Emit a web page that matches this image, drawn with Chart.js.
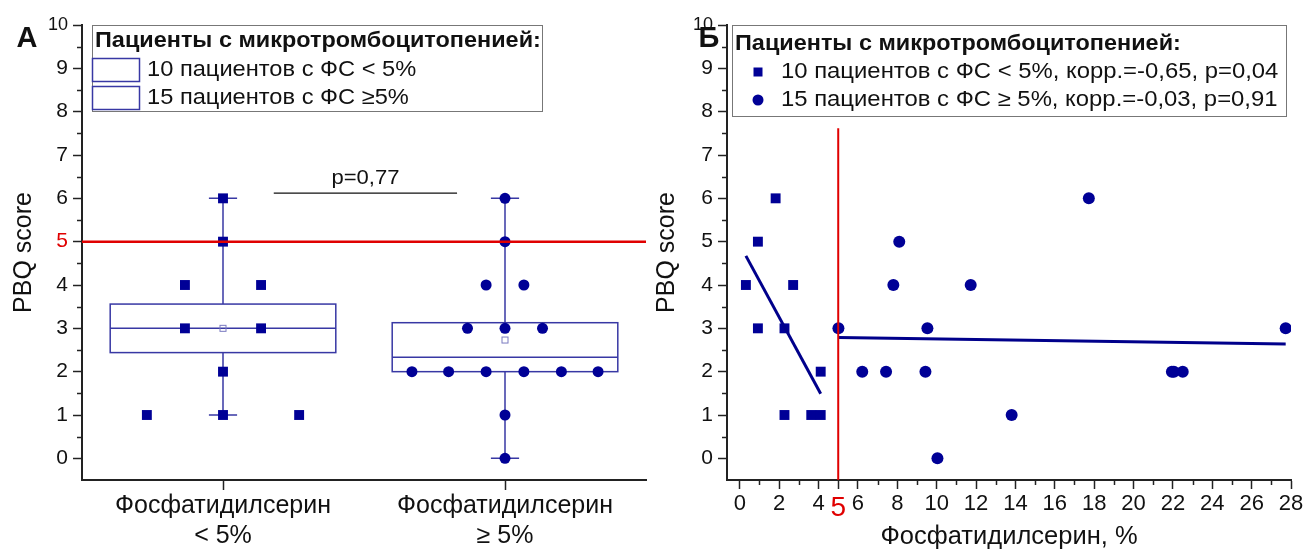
<!DOCTYPE html>
<html>
<head>
<meta charset="utf-8">
<script src="https://cdn.jsdelivr.net/npm/chart.js@4.4.0/dist/chart.umd.min.js"></script>
<style>
  html, body { margin: 0; padding: 0; background: #fff; }
  #wrap { position: relative; width: 1306px; height: 552px; overflow: hidden; }
  #chartA { position: absolute; left: 0; top: 0; }
  #chartB { position: absolute; left: 640px; top: 0; }
</style>
</head>
<body>
<div id="wrap">
  <canvas id="chartA" width="660" height="552"></canvas>
  <canvas id="chartB" width="666" height="552"></canvas>
</div>
<script>
// === Данные ===
const groupLabels = [["Фосфатидилсерин", "< 5%"], ["Фосфатидилсерин", "≥ 5%"]];
const yTicks = [0, 1, 2, 3, 4, 5, 6, 7, 8, 9, 10];
const psTicks = [0, 2, 4, 5, 6, 8, 10, 12, 14, 16, 18, 20, 22, 24, 26, 28];

// Панель А: точки по группам (x = группа + смещение)
const lowX = [0.73, 0.865, 0.865, 1, 1, 1, 1, 1.135, 1.135, 1.27];
const lowY = [1, 4, 3, 6, 5, 2, 1, 4, 3, 1];
const highX = [1.67, 1.8, 1.933, 2.067, 2.2, 2.33, 1.867, 2, 2.133, 1.933, 2.067, 2, 2, 2, 2];
const highY = [2, 2, 2, 2, 2, 2, 3, 3, 3, 4, 4, 6, 5, 1, 0];

// Панель А: ящики
const boxLow = [2.44, 2.0];
const boxHigh = [3.56, 3.13];
const boxMid = [3, 2.33];
const boxMean = [3, 2.73];
const whiskLow = [1, 0];
const whiskHigh = [6, 6];
const pText = "p=0,77";
const pBracketX = [1.18, 1.83];
const pBracketY = 6.12;

// Панель Б: ФС, % и PBQ
const psLowX = [0.31, 0.92, 0.92, 1.82, 2.27, 2.27, 2.71, 3.63, 4.11, 4.11];
const psLowY = [4, 3, 5, 6, 3, 1, 4, 1, 2, 1];
const psHighX = [5.01, 6.22, 7.43, 7.80, 8.10, 9.43, 9.53, 10.04, 11.73, 13.81, 17.73, 21.95, 22.05, 22.5, 27.73];
const psHighY = [3, 2, 2, 4, 5, 2, 3, 0, 4, 1, 6, 2, 2, 2, 3];

const threshold = 5;
const psLineTop = 7.62;

const legendTitle = "Пациенты с микротромбоцитопенией:";
const legendA = ["10 пациентов с ФС < 5%", "15 пациентов с ФС ≥5%"];
const legendB = ["10 пациентов с ФС < 5%, корр.=-0,65, p=0,04", "15 пациентов с ФС ≥ 5%, корр.=-0,03, p=0,91"];

// === Стиль ===
const FONT = "'Liberation Sans', Arial, sans-serif";
Chart.defaults.font.family = FONT;
Chart.defaults.color = "#111";
const navy = "#000096";
const boxBlue = "#3838a4";
const red = "#e00000";
const axisColor = "#222";

function toPoints(xs, ys) {
  return xs.map((x, i) => ({ x: x, y: ys[i] }));
}

// линейная регрессия по точкам, от min x до max x
function fitLine(xs, ys) {
  const n = xs.length;
  const mx = xs.reduce((a, b) => a + b, 0) / n;
  const my = ys.reduce((a, b) => a + b, 0) / n;
  let sxy = 0, sxx = 0;
  xs.forEach((x, i) => { sxy += (x - mx) * (ys[i] - my); sxx += (x - mx) * (x - mx); });
  const k = sxy / sxx;
  const x0 = Math.min(...xs), x1 = Math.max(...xs);
  return [{ x: x0, y: my + k * (x0 - mx) }, { x: x1, y: my + k * (x1 - mx) }];
}

function yAxis(width, titlePad, redFive) {
  return {
    type: "linear", min: -0.5, max: 10,
    afterBuildTicks: s => { s.ticks = yTicks.map(v => ({ value: v })); },
    afterFit: s => { s.width = width; },
    ticks: {
      autoSkip: false, padding: 5,
      font: c => ({ size: c.tick && c.tick.value === 10 ? 18 : 21 }),
      color: c => (redFive && c.tick && c.tick.value === threshold) ? red : "#111"
    },
    grid: { drawOnChartArea: false, drawTicks: true, tickLength: 9, color: axisColor, tickWidth: 1.5 },
    border: { display: true, color: axisColor, width: 2 },
    title: { display: true, text: "PBQ score", font: { size: 25 }, padding: { top: titlePad, bottom: 0 } }
  };
}

// растянутый по горизонтали текст
function wideText(ctx, t, x, y, k) {
  ctx.save();
  ctx.translate(x, y);
  ctx.scale(k, 1);
  ctx.fillText(t, 0, 0);
  ctx.restore();
}

// малые деления
const minorTicks = {
  id: "minorTicks",
  afterDraw(chart, args, opts) {
    const ctx = chart.ctx, a = chart.chartArea;
    const sx = chart.scales.x, sy = chart.scales.y;
    ctx.save();
    ctx.strokeStyle = axisColor;
    ctx.lineWidth = 1.5;
    (opts.y || []).forEach(v => {
      const py = Math.round(sy.getPixelForValue(v)) + 0.5;
      ctx.beginPath(); ctx.moveTo(a.left - 5, py); ctx.lineTo(a.left, py); ctx.stroke();
    });
    (opts.x || []).forEach(v => {
      const px = Math.round(sx.getPixelForValue(v)) + 0.5;
      ctx.beginPath(); ctx.moveTo(px, a.bottom); ctx.lineTo(px, a.bottom + 5); ctx.stroke();
    });
    ctx.restore();
  }
};

// ящики с усами
const boxPlot = {
  id: "boxPlot",
  beforeDatasetsDraw(chart) {
    const ctx = chart.ctx, sx = chart.scales.x, sy = chart.scales.y;
    ctx.save();
    ctx.strokeStyle = boxBlue;
    ctx.lineWidth = 1.5;
    boxLow.forEach((lo, i) => {
      const c = i + 1;
      const xl = sx.getPixelForValue(c - 0.4), xr = sx.getPixelForValue(c + 0.4);
      const xc = sx.getPixelForValue(c);
      const cl = sx.getPixelForValue(c - 0.05), cr = sx.getPixelForValue(c + 0.05);
      const yLo = sy.getPixelForValue(lo), yHi = sy.getPixelForValue(boxHigh[i]);
      ctx.strokeRect(xl, yHi, xr - xl, yLo - yHi);
      const ym = sy.getPixelForValue(boxMid[i]);
      ctx.beginPath(); ctx.moveTo(xl, ym); ctx.lineTo(xr, ym); ctx.stroke();
      const wTop = sy.getPixelForValue(whiskHigh[i]), wBot = sy.getPixelForValue(whiskLow[i]);
      ctx.beginPath();
      ctx.moveTo(xc, yHi); ctx.lineTo(xc, wTop);
      ctx.moveTo(xc, yLo); ctx.lineTo(xc, wBot);
      ctx.moveTo(cl, wTop); ctx.lineTo(cr, wTop);
      ctx.moveTo(cl, wBot); ctx.lineTo(cr, wBot);
      ctx.stroke();
      // среднее
      const yMean = sy.getPixelForValue(boxMean[i]);
      ctx.strokeStyle = "#7a7ac0";
      ctx.lineWidth = 1;
      ctx.strokeRect(xc - 3, yMean - 3, 6, 6);
      ctx.strokeStyle = boxBlue;
      ctx.lineWidth = 1.5;
    });
    // p-value
    const px = sx.getPixelForValue((pBracketX[0] + pBracketX[1]) / 2);
    const py = sy.getPixelForValue(pBracketY);
    ctx.fillStyle = "#111";
    ctx.font = "21px " + FONT;
    ctx.textAlign = "center";
    ctx.textBaseline = "bottom";
    wideText(ctx, pText, px, py - 4, 1.05);
    ctx.restore();
  }
};

// легенда в рамке
const boxLegend = {
  id: "boxLegend",
  afterDraw(chart, args, o) {
    const ctx = chart.ctx;
    ctx.save();
    ctx.strokeStyle = "#777";
    ctx.lineWidth = 1;
    ctx.strokeRect(o.x + 0.5, o.y + 0.5, o.w, o.h);
    ctx.fillStyle = "#111";
    ctx.textAlign = "left";
    ctx.textBaseline = "middle";
    ctx.font = "bold 21.5px " + FONT;
    wideText(ctx, legendTitle, o.x + 3, o.titleY, 1.09);
    ctx.font = "21.5px " + FONT;
    o.items.forEach((t, i) => {
      const y = o.rowY[i];
      if (o.kind === "box") {
        ctx.strokeStyle = boxBlue;
        ctx.lineWidth = 1.5;
        ctx.strokeRect(o.x + 0.5, y - 11.5, 47, 23);
      } else {
        ctx.fillStyle = navy;
        ctx.beginPath();
        if (i === 0) ctx.rect(o.markX - 4.5, y - 4.5, 9, 9);
        else ctx.arc(o.markX, y, 5.5, 0, Math.PI * 2);
        ctx.fill();
      }
      ctx.fillStyle = "#111";
      wideText(ctx, t, o.textX, y, o.stretch);
    });
    // буква панели
    ctx.font = "bold 29px " + FONT;
    ctx.textAlign = "center";
    ctx.fillText(o.letter, o.letterX, 39);
    ctx.restore();
  }
};

// === Панель А ===
new Chart(document.getElementById("chartA"), {
  type: "scatter",
  data: {
    datasets: [
      { type: "line", data: [{ x: 0.5, y: threshold }, { x: 2.5, y: threshold }], borderColor: red, borderWidth: 2.5, pointRadius: 0 },
      { type: "line", data: [{ x: pBracketX[0], y: pBracketY }, { x: pBracketX[1], y: pBracketY }], borderColor: "#111", borderWidth: 1.2, pointRadius: 0 },
      { data: toPoints(lowX, lowY), pointStyle: "rect", pointRadius: 7, backgroundColor: navy, borderWidth: 0 },
      { data: toPoints(highX, highY), pointStyle: "circle", pointRadius: 5.5, backgroundColor: navy, borderWidth: 0 }
    ]
  },
  options: {
    responsive: false, animation: false,
    layout: { padding: { top: 25, right: 14, left: 0, bottom: 0 } },
    plugins: {
      legend: { display: false }, tooltip: { enabled: false },
      minorTicks: { y: yTicks.slice(0, -1).map(v => v + 0.5) },
      boxLegend: { kind: "box", x: 92, y: 25, w: 450, h: 86, titleY: 41, rowY: [70, 98], items: legendA, textX: 147, stretch: 1.1, letter: "А", letterX: 27 }
    },
    scales: {
      x: {
        type: "linear", min: 0.5, max: 2.5,
        afterBuildTicks: s => { s.ticks = groupLabels.map((l, i) => ({ value: i + 1 })); },
        afterFit: s => { s.height = 72; },
        ticks: { autoSkip: false, maxRotation: 0, padding: 1, font: { size: 25, lineHeight: 1.2 }, color: "#111",
          callback: v => groupLabels[v - 1] },
        grid: { drawOnChartArea: false, drawTicks: true, tickLength: 10, color: axisColor, tickWidth: 1.5 },
        border: { display: true, color: axisColor, width: 2 }
      },
      y: yAxis(82, 9, true)
    }
  },
  plugins: [boxPlot, minorTicks, boxLegend]
});

// === Панель Б ===
new Chart(document.getElementById("chartB"), {
  type: "scatter",
  data: {
    datasets: [
      { type: "line", data: [{ x: threshold, y: -0.5 }, { x: threshold, y: psLineTop }], borderColor: red, borderWidth: 2, pointRadius: 0 },
      { type: "line", data: fitLine(psLowX, psLowY), borderColor: "#00008b", borderWidth: 3, pointRadius: 0 },
      { type: "line", data: fitLine(psHighX, psHighY), borderColor: "#00008b", borderWidth: 3, pointRadius: 0 },
      { data: toPoints(psLowX, psLowY), pointStyle: "rect", pointRadius: 7, backgroundColor: navy, borderWidth: 0 },
      { data: toPoints(psHighX, psHighY), pointStyle: "circle", pointRadius: 6, backgroundColor: navy, borderWidth: 0 }
    ]
  },
  options: {
    responsive: false, animation: false,
    layout: { padding: { top: 25, right: 15, left: 0, bottom: 0 } },
    plugins: {
      legend: { display: false }, tooltip: { enabled: false },
      minorTicks: {
        y: yTicks.slice(0, -1).map(v => v + 0.5),
        x: yTicks.concat([11, 12, 13, 14]).map(v => v * 2 + 1).filter(v => v !== threshold && v < 28)
      },
      boxLegend: { kind: "marker", x: 92, y: 25, w: 554, h: 91, titleY: 44, rowY: [72, 100], items: legendB, markX: 118, textX: 141, stretch: 1.11, letter: "Б", letterX: 69 }
    },
    scales: {
      x: {
        type: "linear", min: -0.65, max: 28,
        afterBuildTicks: s => { s.ticks = psTicks.map(v => ({ value: v })); },
        afterFit: s => { s.height = 72; },
        ticks: {
          autoSkip: false, maxRotation: 0, padding: 2,
          font: c => ({ size: c.tick && c.tick.value === threshold ? 28 : 22 }),
          color: c => (c.tick && c.tick.value === threshold) ? red : "#111"
        },
        grid: { drawOnChartArea: false, drawTicks: true, tickLength: 9, color: axisColor, tickWidth: 1.5 },
        border: { display: true, color: axisColor, width: 2 },
        title: { display: true, text: "Фосфатидилсерин, %", font: { size: 25.5 }, padding: { top: 0, bottom: 0 } }
      },
      y: yAxis(87, 12, false)
    }
  },
  plugins: [minorTicks, boxLegend]
});
</script>
</body>
</html>
